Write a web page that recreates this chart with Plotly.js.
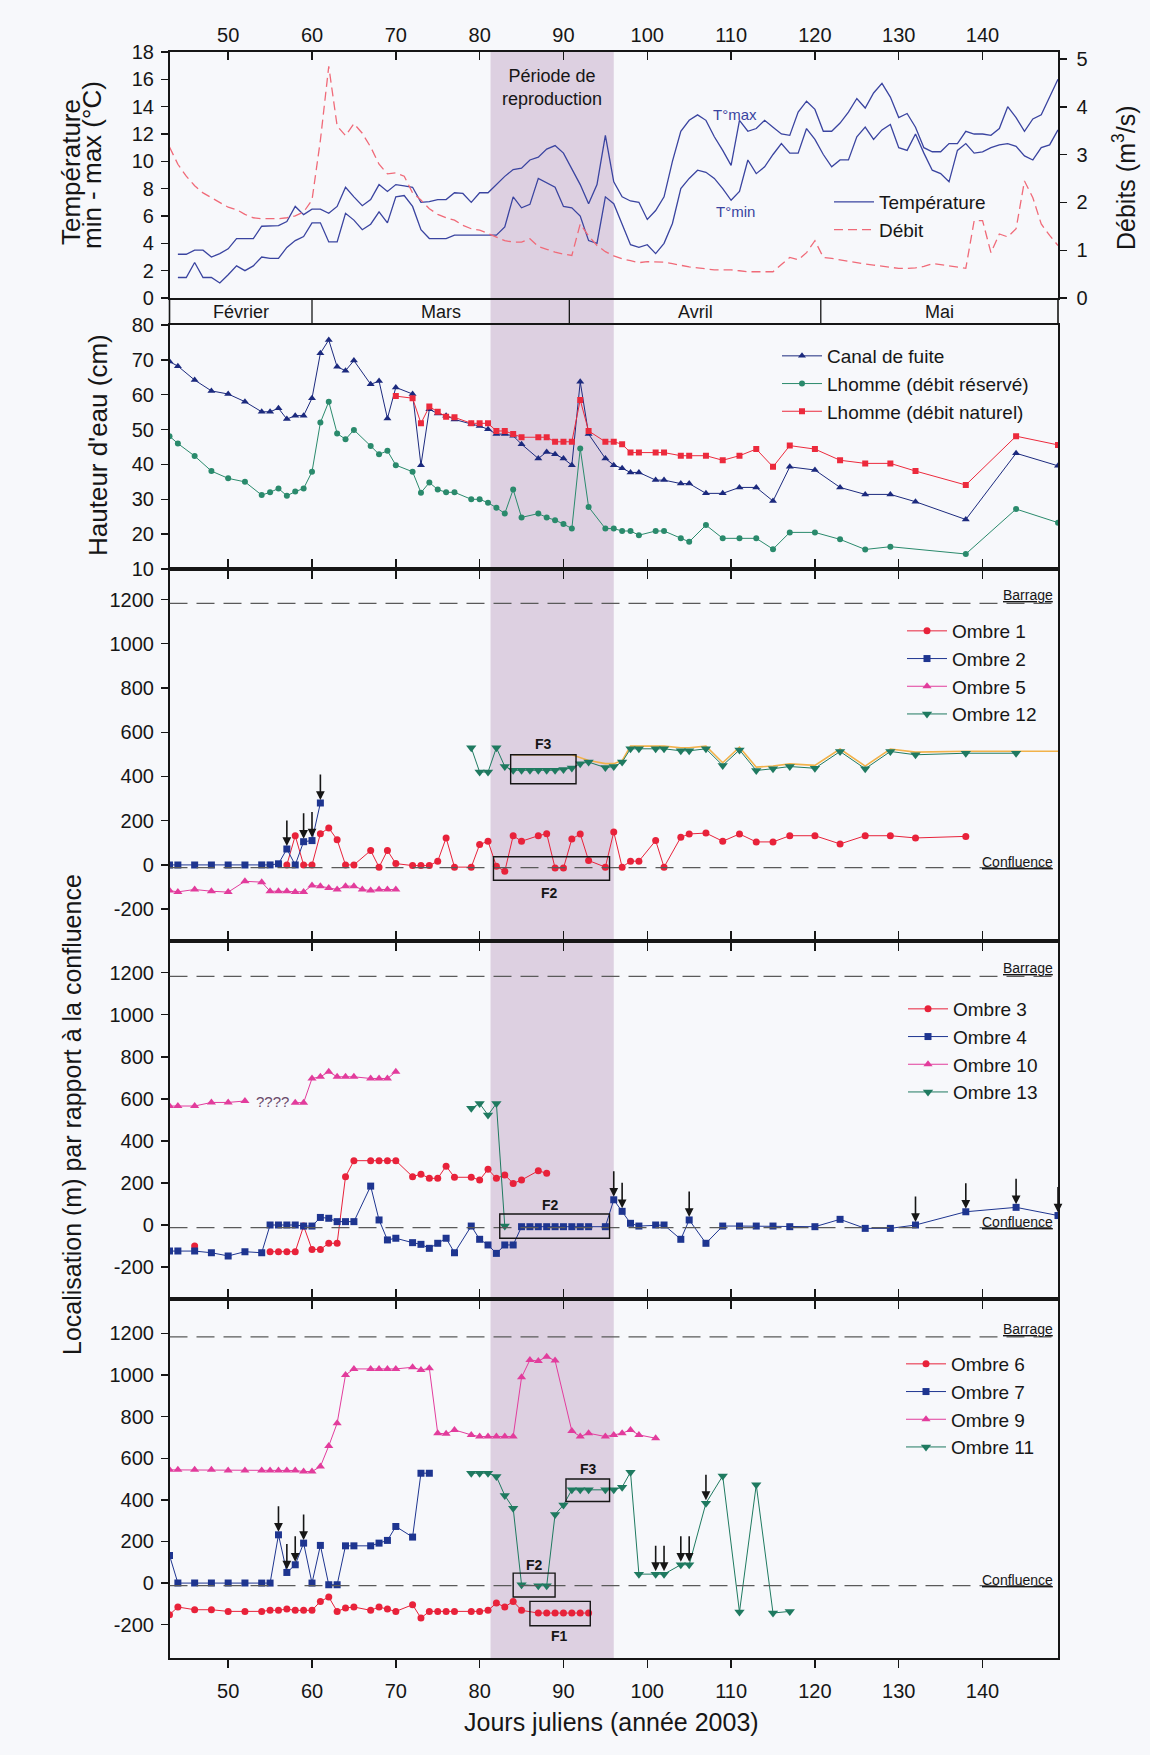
<!DOCTYPE html>
<html><head><meta charset="utf-8">
<script src="https://cdn.plot.ly/plotly-3.0.1.min.js"></script>
<style>html,body{margin:0;padding:0;background:#f7f8fb}</style>
</head><body><div id="chart" style="width:1150px;height:1755px"></div>
<script>
// ---------------- DATA ----------------
const DAY_TICKS = [50,60,70,80,90,100,110,120,130,140];
const MONTHS = ['Février','Mars','Avril','Mai'];
const MONTH_BOUNDS = [43, 60, 90.7, 120.7, 149];
const REPRO = [81.3, 96];
const BARRAGE = 1183, CONFLUENCE = -12;
const LOC_TICKS = [-200, 0, 200, 400, 600, 800, 1000, 1200];
const LOC_LABELS = ['-200', '0', '200', '400', '600', '800', '1000', '1200'];

// Panel 1: temperature (°C) and flow (m3/s)
const T_DAYS = [44,45,46,47,48,49,50,51,52,53,54,55,56,57,58,59,60,61,62,63,64,65,66,67,68,69,70,71,72,73,74,75,76,77,78,79,80,81,82,83,84,85,86,87,88,89,90,91,92,93,94,95,96,97,98,99,100,101,102,103,104,105,106,107,108,109,110,111,112,113,114,115,116,117,118,119,120,121,122,123,124,125,126,127,128,129,130,131,132,133,134,135,136,137,138,139,140,141,142,143,144,145,146,147,148,149];
const T_MAX = [3.2,3.2,3.5,3.5,3.0,3.25,3.6,4.35,4.35,4.35,
  5.25,5.25,5.3,5.6,6.7,6.1,6.5,6.5,6.2,6.7,
  8.1,7.4,6.75,7.2,8.3,7.8,8.3,8.2,8.1,7.0,
  7.05,7.2,7.2,7.7,7.65,7.0,7.7,7.7,8.3,8.9,
  9.4,9.5,10.1,10.3,10.9,11.15,10.6,9.5,8.3,6.9,
  8.3,11.9,8.5,7.4,7.1,7.0,5.75,6.4,7.4,10.0,
  12.2,13.0,13.4,13.0,11.8,10.8,9.7,13.0,12.2,12.4,
  13.0,12.5,12.0,11.9,13.6,14.4,13.8,12.2,12.2,12.8,
  13.6,14.6,13.9,15.0,15.7,14.7,13.2,13.5,12.5,11.0,
  10.7,10.7,11.3,11.3,12.2,12.0,12.0,11.9,12.4,14.0,
  13.2,12.2,13.1,13.4,14.7,16.0];
const T_MIN = [1.5,1.5,2.6,1.5,1.5,1.1,1.7,2.35,2.0,2.35,
  3.0,2.9,2.9,3.7,4.2,4.5,5.5,5.5,4.1,4.1,
  6.2,5.7,5.0,5.4,6.3,5.5,7.4,7.5,6.7,5.0,
  4.35,4.35,4.35,4.6,4.6,4.6,4.6,4.6,4.6,5.2,
  7.4,6.6,6.85,8.75,8.4,8.1,6.7,6.6,6.0,4.2,
  4.0,7.4,6.9,5.45,3.9,3.7,3.9,3.25,4.0,5.45,
  8.0,8.75,9.35,9.2,8.75,8.0,7.15,7.8,10.1,9.1,
  9.6,10.5,11.3,10.6,10.6,12.4,11.6,10.5,9.6,10.1,
  10.1,11.8,12.5,11.6,12.3,12.7,11.0,10.8,12.0,10.6,
  9.35,9.1,8.5,10.8,11.3,10.6,10.7,11.0,11.2,11.3,
  11.1,10.4,10.1,11.0,11.2,12.3];
const Q_DAYS = [43,44,45,46,47,48,49,50,51,52,53,54,55,56,57,58,59,60,61,62,63,64,65,66,67,68,69,70,71,72,73,74,75,76,77,78,79,80,81,82,83,84,85,86,87,88,89,90,91,92,93,94,95,96,97,98,99,100,101,102,103,104,105,106,107,108,109,110,111,112,113,114,115,116,117,118,119,120,121,122,123,124,125,126,127,128,129,130,131,132,133,134,135,136,137,138,139,140,141,142,143,144,145,146,147,148,149];
const DEBIT = [3.16,2.8,2.55,2.35,2.2,2.1,2.0,1.9,1.85,1.75,
  1.68,1.66,1.66,1.66,1.68,1.72,1.8,2.05,3.3,4.85,
  3.6,3.4,3.65,3.45,3.16,2.8,2.6,2.62,2.55,2.2,
  2.05,1.87,1.75,1.68,1.63,1.52,1.45,1.42,1.35,1.27,
  1.2,1.17,1.17,1.24,1.08,1.02,0.96,0.92,0.89,1.55,
  1.3,1.1,0.97,0.88,0.82,0.78,0.74,0.76,0.76,0.75,
  0.72,0.68,0.65,0.63,0.61,0.59,0.59,0.59,0.57,0.55,
  0.55,0.55,0.55,0.7,0.85,0.8,0.95,1.2,0.85,0.83,
  0.8,0.76,0.73,0.71,0.69,0.67,0.64,0.62,0.62,0.63,
  0.66,0.72,0.7,0.67,0.65,0.62,1.62,1.62,0.95,1.34,
  1.28,1.45,2.45,2.1,1.55,1.31,1.1];

// Panel 2: water height (cm)
const CANAL_DAYS = [43,44,46,48,50,52,54,55,56,57,58,59,60,61,62,63,64,65,67,68,69,70,72,73,74,75,76,77,79,80,81,82,83,84,85,87,88,89,90,91,92,93,95,96,97,98,99,101,102,104,105,107,109,111,113,115,117,120,123,126,129,132,138,144,149];
const CANAL = [69.5,68.2,64.2,61.1,60.2,58,55.1,55.1,56.1,53,54,54,59,71.9,75.7,68,66.9,69.8,63,63.9,53.2,62.1,60.2,39.8,55.8,54.6,54,52.9,51.6,51,50.1,48.7,48.7,48.2,45.8,41.7,43.6,42.9,41.7,39.8,63.7,48.7,41.7,39.8,38.9,37.7,37.7,35.5,35.5,34.5,34.5,31.7,31.7,33.4,33.4,29.5,39.3,38.4,33.4,31.4,31.4,29.3,24.2,43.2,39.6];
const RESERVE_DAYS = [43,44,46,48,50,52,54,55,56,57,58,59,60,61,62,63,64,65,67,68,69,70,72,73,74,75,76,77,79,80,81,82,83,84,85,87,88,89,90,91,92,93,95,96,97,98,99,101,102,104,105,107,109,111,113,115,117,120,123,126,129,138,144,149];
const RESERVE = [48.1,46,42.4,38.1,36,35,31.2,32,33.1,31,32.2,33.1,37.9,52,58,48.9,47.2,49.9,45.3,42.9,43.9,39.8,37.9,31.9,34.8,32.8,32,32,30,30,29,27.6,25.9,32.8,24.8,25.9,24.8,24,22.9,21.6,44.6,27.8,21.6,21.6,20.9,20.9,19.7,20.9,20.9,18.8,17.8,22.6,18.8,18.8,18.8,15.7,20.5,20.5,18.5,15.6,16.4,14.3,27.2,23.3];
const NATUREL_DAYS = [70,72,73,74,75,76,77,79,80,81,82,83,84,85,87,88,89,90,91,92,93,95,96,97,98,99,101,102,104,105,107,109,111,113,115,117,120,123,126,129,132,138,144,149];
const NATUREL = [59.6,59,51.8,56.6,55.1,53.7,53.5,51.8,51.8,51.8,49.6,49.6,48.7,47.8,47.8,47.8,46.5,46.5,46.5,58.5,49.6,46.5,46.5,45.8,43.4,43.4,43.4,43.4,42.5,42.5,42.5,41.2,42.5,44.4,39.3,45.4,44.4,41.2,40.3,40.3,38.1,34.1,48.1,45.6];

// Panel 3: location (m) relative to confluence
const O1_DAYS = [57,58,59,60,61,62,63,64,65,67,68,69,70,72,73,74,75,76,77,79,80,81,82,83,84,85,87,88,89,90,91,92,93,95,96,97,98,99,101,102,104,105,107,109,111,113,115,117,120,123,126,129,132,138];
const O1 = [0,132,0,0,141,167,114,0,0,65,-10,65,6,-3,-3,-3,17,122,-10,-10,92,107,-6,-29,132,107,132,141,-14,-14,117,140,20,-10,149,-10,17,17,110,-10,125,140,144,107,140,104,104,132,132,95,132,132,122,129];
const O2_DAYS = [43,44,46,48,50,52,54,55,56,57,58,59,60,61];
const O2 = [0,0,0,0,0,0,0,0,5,72,0,105,110,280];
const O5_DAYS = [43,44,46,48,50,52,54,55,56,57,58,59,60,61,62,63,64,65,66,67,68,69,70];
const O5 = [-116,-122,-111,-119,-123,-74,-78,-119,-119,-119,-122,-122,-93,-96,-104,-111,-96,-96,-111,-116,-111,-111,-111];
const O12_DAYS = [79,80,81,82,83,84,85,86,87,88,89,90,91,92,93,95,96,97,98,99,101,102,104,105,107,109,111,113,115,117,120,123,126,129,132,138,144];
const O12 = [530,420,420,530,445,428,428,428,428,428,428,432,438,458,465,440,445,465,525,525,525,525,516,516,525,450,520,427,435,445,437,513,435,513,498,505,505];
const ORANGE_DAYS = [84,91,93,95,96,97,98,99,101,102,104,105,107,109,111,113,115,117,120,123,126,129,132,138,144,149];
const ORANGE = [498,498,472,458,458,472,537,537,537,537,530,530,537,462,532,442,447,457,450,524,447,524,510,514,514,514];
const O2_ARROWS = [57,59,60,61];

// Panel 4
const O3_DAYS = [46,50,55,56,57,58,59,60,61,62,63,64,65,67,68,69,70,72,73,74,75,76,77,79,80,81,82,83,84,85,87,88];
const O3 = [-100,null,-127,-127,-127,-127,-5,-116,-116,-87,-87,230,306,306,306,306,306,230,242,222,222,280,227,227,214,265,222,238,198,214,258,246];
const O4_DAYS = [43,44,46,48,50,52,54,55,56,57,58,59,60,61,62,63,64,65,67,68,69,70,72,73,74,75,76,77,79,80,81,82,83,84,85,86,87,88,89,90,91,92,93,95,96,97,98,99,101,102,104,105,107,109,111,113,115,117,120,123,126,129,132,138,144,149];
const O4 = [-124,-124,-124,-132,-147,-127,-132,0,0,0,0,-5,-5,36,32,16,16,16,185,24,-71,-63,-84,-92,-111,-87,-63,-132,-5,-68,-95,-135,-95,-95,-8,-8,-8,-8,-8,-8,-8,-8,-8,-8,120,65,8,-5,0,0,-68,24,-87,-5,-5,-5,-5,-8,-8,27,-16,-16,0,63,84,45];
const O10_DAYS = [43,44,46,48,50,52,55,58,59,60,61,62,63,64,65,67,68,69,70];
const O10 = [566,566,566,583,583,590,null,582,582,697,705,729,705,705,705,697,697,697,729];
const O13_DAYS = [79,80,81,82,83];
const O13 = [555,578,523,578,-5];
const O4_ARROWS = [96,97,105,132,138,144,149];

// Panel 5
const O6_DAYS = [43,44,46,48,50,52,54,55,56,57,58,59,60,61,62,63,64,65,67,68,69,70,72,73,74,75,76,77,79,80,81,82,83,84,85,87,88,89,90,91,92,93];
const O6 = [-152,-115,-128,-128,-136,-136,-136,-131,-131,-125,-131,-131,-131,-88,-67,-136,-120,-115,-131,-115,-125,-136,-104,-168,-136,-136,-136,-136,-136,-136,-131,-96,-115,-88,-131,-144,-144,-144,-144,-144,-144,-144];
const O7_DAYS = [43,44,46,48,50,52,54,55,56,57,58,59,60,61,62,63,64,65,67,68,69,70,72,73,74];
const O7 = [133,0,0,0,0,0,0,0,232,51,88,192,0,181,-8,-8,179,179,179,192,205,272,221,528,528];
const O9_DAYS = [43,44,46,48,50,52,54,55,56,57,58,59,60,61,62,63,64,65,67,68,69,70,72,73,74,75,76,77,79,80,81,82,83,84,85,86,87,88,89,91,92,93,95,96,97,98,99,101];
const O9 = [544,544,544,544,541,541,541,541,541,541,541,536,536,560,659,768,1000,1029,1029,1029,1029,1029,1037,1024,1032,720,717,736,712,704,704,704,704,704,989,1072,1067,1088,1069,731,704,720,704,712,720,736,712,696];
const O11_DAYS = [79,80,81,82,83,84,85,87,88,89,90,91,92,93,95,96,97,98,99,101,102,104,105,107,109,111,113,115,117];
const O11 = [528,528,528,512,421,360,-8,-13,-13,330,375,448,448,448,448,448,461,533,43,43,43,88,88,384,515,-139,472,-144,-136];
const O7_ARROWS = [56,57,58,59];
const O11_ARROWS = [101,102,104,105,107];

// ---------------- LAYOUT GEOMETRY ----------------
const W = 1150, H = 1755;
const PY = v => 1 - v / H;
const PXX = v => v / W;
const XDOM = [PXX(169.5), PXX(1058)];
const P1 = [PY(298), PY(52)];
const P2 = [PY(569), PY(325)];
const P3 = [PY(941), PY(569)];
const P4 = [PY(1299), PY(941)];
const P5 = [PY(1658), PY(1299)];
const FONT = 'Liberation Sans, Arial, Helvetica, sans-serif';
const INK = '#161616';

const C = {
  tblue: '#3a44a0', qred: '#f06a78',
  canal: '#1c2a7e', reserve: '#2a8a6c', naturel: '#ec2a3c',
  red: '#e8223a', blue: '#1e3590', pink: '#e23c9c', teal: '#1f7a60', orange: '#f2b24a'
};

function tr(x, y, xa, ya, color, symbol, name, legend, size, extra) {
  return Object.assign({
    type: 'scatter', mode: 'lines+markers', x: x, y: y, xaxis: xa, yaxis: ya,
    name: name, legend: legend, connectgaps: false,
    line: { color: color, width: 1 },
    marker: { color: color, symbol: symbol, size: size || 7 }
  }, extra || {});
}

const traces = [
  { type: 'scatter', mode: 'lines', x: T_DAYS, y: T_MAX, xaxis: 'x', yaxis: 'y', name: 'Température', legend: 'legend', line: { color: C.tblue, width: 1.3 } },
  { type: 'scatter', mode: 'lines', x: T_DAYS, y: T_MIN, xaxis: 'x', yaxis: 'y', showlegend: false, line: { color: C.tblue, width: 1.3 } },
  { type: 'scatter', mode: 'lines', x: Q_DAYS, y: DEBIT, xaxis: 'x', yaxis: 'y2', name: 'Débit', legend: 'legend', line: { color: C.qred, width: 1.3, dash: '9px,5px' } },
  tr(CANAL_DAYS, CANAL, 'x2', 'y3', C.canal, 'triangle-up', 'Canal de fuite', 'legend2', 7),
  tr(RESERVE_DAYS, RESERVE, 'x2', 'y3', C.reserve, 'circle', 'Lhomme (débit réservé)', 'legend2', 6),
  tr(NATUREL_DAYS, NATUREL, 'x2', 'y3', C.naturel, 'square', 'Lhomme (débit naturel)', 'legend2', 6),
  { type: 'scatter', mode: 'lines', x: ORANGE_DAYS, y: ORANGE, xaxis: 'x3', yaxis: 'y4', showlegend: false, line: { color: C.orange, width: 1.6 } },
  tr(O1_DAYS, O1, 'x3', 'y4', C.red, 'circle', 'Ombre 1', 'legend3', 7),
  tr(O2_DAYS, O2, 'x3', 'y4', C.blue, 'square', 'Ombre 2', 'legend3', 7),
  tr(O5_DAYS, O5, 'x3', 'y4', C.pink, 'triangle-up', 'Ombre 5', 'legend3', 8),
  tr(O12_DAYS, O12, 'x3', 'y4', C.teal, 'triangle-down', 'Ombre 12', 'legend3', 9),
  tr(O3_DAYS, O3, 'x4', 'y5', C.red, 'circle', 'Ombre 3', 'legend4', 7),
  tr(O4_DAYS, O4, 'x4', 'y5', C.blue, 'square', 'Ombre 4', 'legend4', 7),
  tr(O10_DAYS, O10, 'x4', 'y5', C.pink, 'triangle-up', 'Ombre 10', 'legend4', 8),
  tr(O13_DAYS, O13, 'x4', 'y5', C.teal, 'triangle-down', 'Ombre 13', 'legend4', 9),
  tr(O6_DAYS, O6, 'x5', 'y6', C.red, 'circle', 'Ombre 6', 'legend5', 7),
  tr(O7_DAYS, O7, 'x5', 'y6', C.blue, 'square', 'Ombre 7', 'legend5', 7),
  tr(O9_DAYS, O9, 'x5', 'y6', C.pink, 'triangle-up', 'Ombre 9', 'legend5', 8),
  tr(O11_DAYS, O11, 'x5', 'y6', C.teal, 'triangle-down', 'Ombre 11', 'legend5', 9)
];

// ---------------- AXES ----------------
const TICKFONT = { family: FONT, size: 20, color: INK };
function xax(anchor, extra) {
  return Object.assign({
    domain: XDOM, range: [43, 149], anchor: anchor, tickvals: DAY_TICKS,
    showline: true, linecolor: INK, linewidth: 1.6, ticks: 'outside', ticklen: 8,
    tickwidth: 1.4, tickcolor: INK, showgrid: false, zeroline: false,
    showticklabels: false, tickfont: TICKFONT
  }, extra);
}
function yax(domain, range, tickvals, anchor, extra) {
  return Object.assign({
    domain: domain, range: range, tickvals: tickvals, anchor: anchor,
    showline: true, linecolor: INK, linewidth: 1.6, ticks: 'outside', ticklen: 7,
    tickwidth: 1.4, tickcolor: INK, showgrid: false, zeroline: false,
    tickfont: TICKFONT, mirror: true, ticklabelstandoff: 3
  }, extra);
}

function legendAt(xpx, ytop) {
  return { x: PXX(xpx), y: PY(ytop), xanchor: 'left', yanchor: 'top', bgcolor: 'rgba(0,0,0,0)',
    borderwidth: 0, font: { family: FONT, size: 19, color: INK }, tracegroupgap: 0, itemwidth: 40 };
}

// ---------------- SHAPES ----------------
const shapes = [];
shapes.push({ type: 'rect', xref: 'x', yref: 'paper', x0: REPRO[0], x1: REPRO[1], y0: P5[0], y1: P1[1],
  fillcolor: '#ddd0e1', line: { width: 0 }, layer: 'below' });
shapes.push({ type: 'line', xref: 'paper', yref: 'paper', x0: XDOM[0], x1: XDOM[0], y0: P2[1], y1: P1[0], line: { color: INK, width: 1.6 } });
shapes.push({ type: 'line', xref: 'paper', yref: 'paper', x0: XDOM[1], x1: XDOM[1], y0: P2[1], y1: P1[0], line: { color: INK, width: 1.6 } });
MONTH_BOUNDS.slice(1, -1).forEach(b => shapes.push({ type: 'line', xref: 'x', yref: 'paper', x0: b, x1: b, y0: P2[1], y1: P1[0], line: { color: INK, width: 1.3 } }));
[['x3','y4'],['x4','y5'],['x5','y6']].forEach(([xa, ya]) => {
  [BARRAGE, CONFLUENCE].forEach(v => shapes.push({ type: 'line', xref: xa, yref: ya, x0: 43, x1: 149, y0: v, y1: v,
    line: { color: '#5a5a5a', width: 1.3, dash: '18px,9px' } }));
});
const BOXES = [
  ['x3','y4', 83.7, 91.5, 367, 498], ['x3','y4', 81.65, 95.5, -69, 37],
  ['x4','y5', 82.4, 95.5, -63, 52],
  ['x5','y6', 84, 89, -67, 48], ['x5','y6', 90.3, 95.5, 392, 500], ['x5','y6', 86, 93.2, -205, -88]
];
BOXES.forEach(b => shapes.push({ type: 'rect', xref: b[0], yref: b[1], x0: b[2], x1: b[3], y0: b[4], y1: b[5],
  line: { color: INK, width: 1.4 }, fillcolor: 'rgba(0,0,0,0)' }));

// ---------------- ANNOTATIONS ----------------
const ann = [];
function txt(x, y, xref, yref, text, size, extra) {
  ann.push(Object.assign({ x: x, y: y, xref: xref, yref: yref, text: text, showarrow: false,
    xanchor: 'center', yanchor: 'middle',
    font: { family: FONT, size: size, color: INK } }, extra || {}));
}
MONTHS.forEach((m, i) => txt((MONTH_BOUNDS[i] + MONTH_BOUNDS[i + 1]) / 2, PY(312), 'x', 'paper', m, 18));
txt(88.65, PY(87), 'x', 'paper', 'Période de<br>reproduction', 18);
txt(110.5, 13.4, 'x', 'y', 'T°max', 15, { font: { family: FONT, size: 15, color: C.tblue } });
txt(110.5, 6.3, 'x', 'y', 'T°min', 15, { font: { family: FONT, size: 15, color: C.tblue } });
txt(PXX(71), PY(172), 'paper', 'paper', 'Température', 26, { textangle: -90 });
txt(PXX(92), PY(165), 'paper', 'paper', 'min - max (°C)', 26, { textangle: -90 });
txt(PXX(1124), PY(178), 'paper', 'paper', 'Débits (m<sup>3</sup>/s)', 25, { textangle: -90 });
txt(PXX(98), PY(445), 'paper', 'paper', 'Hauteur d\'eau (cm)', 26, { textangle: -90 });
txt(PXX(72), PY(1115), 'paper', 'paper', 'Localisation (m) par rapport à la confluence', 25, { textangle: -90 });
txt(PXX(611), PY(1722), 'paper', 'paper', 'Jours juliens (année 2003)', 25);
[['x3','y4'],['x4','y5'],['x5','y6']].forEach(([xa, ya]) => {
  txt(148.6, BARRAGE, xa, ya, '<u>Barrage</u>', 14, { xanchor: 'right', yanchor: 'bottom', yshift: -2 });
  txt(148.6, CONFLUENCE, xa, ya, '<u>Confluence</u>', 14, { xanchor: 'right', yanchor: 'bottom', yshift: -4 });
});
const FLABELS = [
  ['x3','y4', 87.6, 545, 'F3'], ['x3','y4', 88.3, -128, 'F2'],
  ['x4','y5', 88.4, 95, 'F2'],
  ['x5','y6', 86.5, 85, 'F2'], ['x5','y6', 93.0, 548, 'F3'], ['x5','y6', 89.5, -255, 'F1']
];
FLABELS.forEach(f => txt(f[2], f[3], f[0], f[1], '<b>' + f[4] + '</b>', 14));
txt(55.3, 586, 'x4', 'y5', '????', 15, { font: { family: FONT, size: 15, color: '#6a4a6a' } });
function arrows(days, xs, ys, xa, ya) {
  days.forEach(d => {
    const i = xs.indexOf(d);
    ann.push({ x: d, y: ys[i], xref: xa, yref: ya, text: '', showarrow: true, ax: 0, ay: -30,
      arrowhead: 2, arrowsize: 1.1, arrowwidth: 1.6, arrowcolor: INK, standoff: 3 });
  });
}
arrows(O2_ARROWS, O2_DAYS, O2, 'x3', 'y4');
arrows(O4_ARROWS, O4_DAYS, O4, 'x4', 'y5');
arrows(O7_ARROWS, O7_DAYS, O7, 'x5', 'y6');
arrows(O11_ARROWS, O11_DAYS, O11, 'x5', 'y6');

const layout = {
  width: W, height: H, autosize: false,
  margin: { l: 0, r: 0, t: 0, b: 0, pad: 0 },
  paper_bgcolor: '#f7f8fb', plot_bgcolor: 'rgba(0,0,0,0)',
  font: { family: FONT, color: INK },
  showlegend: true,
  xaxis: xax('y', { side: 'top', ticks: 'inside', showticklabels: true, mirror: true }),
  yaxis: yax(P1, [0, 18], [0,2,4,6,8,10,12,14,16,18], 'x', { mirror: false }),
  yaxis2: yax(P1, [0, 5.15], [0,1,2,3,4,5], 'x', { overlaying: 'y', side: 'right', mirror: false, ticklabelstandoff: 6 }),
  xaxis2: xax('y3', { mirror: true }),
  yaxis3: yax(P2, [10, 80], [10,20,30,40,50,60,70,80], 'x2'),
  xaxis3: xax('y4', { mirror: 'ticks' }),
  yaxis4: yax(P3, [-344, 1338], LOC_TICKS, 'x3', { ticktext: LOC_LABELS }),
  xaxis4: xax('y5', { mirror: 'ticks' }),
  yaxis5: yax(P4, [-352, 1351], LOC_TICKS, 'x4', { ticktext: LOC_LABELS }),
  xaxis5: xax('y6', { mirror: 'ticks', showticklabels: true, ticklabelstandoff: 6 }),
  yaxis6: yax(P5, [-360, 1365], LOC_TICKS, 'x5', { ticktext: LOC_LABELS }),
  legend: legendAt(829, 183),
  legend2: legendAt(777, 337),
  legend3: legendAt(902, 612),
  legend4: legendAt(903, 990),
  legend5: legendAt(901, 1345),
  shapes: shapes,
  annotations: ann
};

Plotly.newPlot('chart', traces, layout, { displayModeBar: false, staticPlot: true });
</script></body></html>
